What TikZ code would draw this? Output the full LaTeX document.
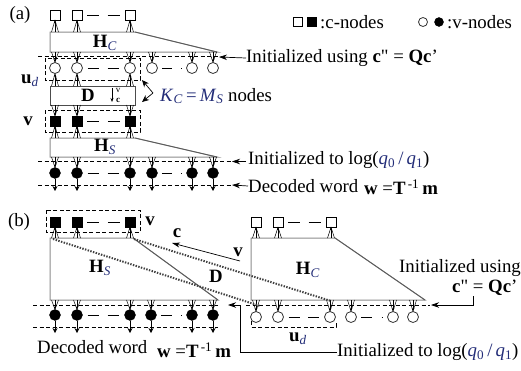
\documentclass[tikz,border=0pt]{standalone}
\usepackage{fontspec}
\setmainfont{Liberation Serif}
\usetikzlibrary{arrows.meta,calc}
\definecolor{mblue}{RGB}{35,45,120}
\definecolor{boxgray}{RGB}{140,140,140}
\newcommand{\mi}[1]{\textcolor{mblue}{\textit{#1}}}
\newcommand{\conn}[2]{%
  \draw[conl] ($(#1 |- 0,#2)+(-3.5,0)$) -- (#1) -- ($(#1 |- 0,#2)+(3.5,0)$);
  \draw[conl,-{Stealth[length=3pt,width=2.5pt]}] (#1 |- 0,#2) -- (#1);}
\newcommand{\gapdash}[2]{%
  \draw[line width=0.9pt] ($(#1.east)!0.12!(#2.west)$) -- ($(#1.east)!0.4!(#2.west)$)
       ($(#1.east)!0.6!(#2.west)$) -- ($(#1.east)!0.88!(#2.west)$);}
\newcommand{\gapdot}[2]{%
  \draw[line width=0.9pt] ($(#1.east)!0.15!(#2.west)$) -- ($(#1.east)!0.5!(#2.west)$)
       ($(#1.east)!0.82!(#2.west)$) -- ($(#1.east)!0.86!(#2.west)$);}
\begin{document}
\begin{tikzpicture}[x=1pt,y=-1pt,
  every node/.style={font=\fontsize{18.8}{22}\selectfont},
  osq/.style={draw,line width=0.8pt,fill=white,minimum size=10pt,inner sep=0pt},
  fsq/.style={draw,fill=black,minimum size=10pt,inner sep=0pt},
  ocir/.style={draw=black!80,circle,line width=0.8pt,fill=white,minimum size=11pt,inner sep=0pt},
  fcir/.style={draw,circle,fill=black,minimum size=11pt,inner sep=0pt},
  boxl/.style={draw=boxgray,line width=1pt,fill=white},
  diag/.style={draw=black!65,line width=0.8pt},
  dline/.style={line width=0.7pt,dash pattern=on 4pt off 2.5pt},
  conl/.style={line width=0.5pt},
  dotl/.style={line width=2pt,dash pattern=on 1.4pt off 1.4pt,draw=black!75},
  tip/.style={line width=0.7pt,-{Stealth[length=8pt,width=5.5pt]}},
  txt/.style={inner sep=0pt,anchor=west},
  small/.style={font=\fontsize{9}{9}\selectfont,inner sep=0pt},
]
\useasboundingbox (0,0) rectangle (521,370);

% ---------------- legend ----------------
\node[osq,minimum size=9pt] (lg1) at (298,22) {};
\node[fsq,minimum size=9pt] (lg2) at (312,22) {};
\node[txt] (lg3) at (320,22) {:c-nodes};
\node[ocir,minimum size=9pt] (lg4) at (423,22) {};
\node[fcir,minimum size=9pt] (lg5) at (439,22) {};
\node[txt] (lg6) at (447,22) {:v-nodes};

% ---------------- part (a) ----------------
\node (la) at (20,15) {(a)};
\draw[boxl] (50,32) -- (135,32) -- (217,52) -- (50,52) -- cycle;
\draw[diag] (135,32) -- (217,52);
\node (HCa) at (105,43) {\textbf{H}\textsubscript{\mi{C}}};
\draw[boxl,draw=black!70] (50,86) rectangle (135,105);
\node (Da) at (88,95) {\textbf{D}};
\coordinate (dvs) at (112,88);
\coordinate (dve) at (112,102);
\draw[line width=0.6pt,-{Stealth[length=4pt,width=3pt]}] (dvs) -- (dve);
\node[small] (dv) at (118,90) {v};
\node[small] (dc) at (118,100) {\textbf{c}};
\draw[boxl] (50,138) -- (135,138) -- (217,157) -- (50,157) -- cycle;
\draw[diag] (135,138) -- (217,157);
\node (HSa) at (105,147) {\textbf{H}\textsubscript{\mi{S}}};

\draw[dline] (38,56) -- (220,56);
\draw[dline] (45,58) rectangle (140,80);
\draw[dline] (45,110) rectangle (140,132);
\draw[dline] (38,161.5) -- (231,161.5);
\draw[dline] (38,185) -- (231,185);

\foreach \i/\x in {1/55,2/77,3/130} {
  \node[osq] (ta\i) at (\x,15) {};
  \node[fsq] (fa\i) at (\x,121) {};
}
\foreach \i/\x in {1/55,2/77,3/130,4/152,5/192,6/213} {
  \node[ocir] (ca\i) at (\x,68) {};
  \node[fcir] (ba\i) at (\x,173) {};
}
\gapdash{ta2}{ta3}
\gapdash{ca2}{ca3}
\gapdot{ca4}{ca5}
\gapdash{fa2}{fa3}
\gapdash{ba2}{ba3}
\gapdot{ba4}{ba5}

\foreach \i in {1,2,3} {
  \conn{ta\i.south}{32}
  \conn{ca\i.south}{86}
  \conn{fa\i.north}{105}
  \conn{fa\i.south}{138}
}
\foreach \i in {1,...,6} {
  \conn{ca\i.north}{52}
  \conn{ba\i.north}{157}
  \draw[line width=0.8pt,-{Stealth[length=5pt,width=5pt]}] (ba\i.south) -- (ba\i.south |- 0,191);
}

\node (uda) at (30,81) {\textbf{u}\textsubscript{\mi{d}}};
\node (va) at (28,121) {\textbf{v}};
\coordinate (kv) at (153,93);
\coordinate (k1) at (142,80);
\coordinate (k2) at (142,102);
\draw[line width=0.7pt,-{Stealth[length=7pt,width=6pt]}] (kv) -- (k1);
\draw[line width=0.7pt,-{Stealth[length=7pt,width=6pt]}] (kv) -- (k2);
\node[txt] (km) at (160,96) {\mi{K}\textsubscript{\mi{C}}\,\textcolor{mblue}{=}\,\mi{M}\textsubscript{\mi{S}} nodes};

\node[txt] (ia1) at (246,58) {Initialized using \textbf{c}\textquotedbl{} = \textbf{Qc}'};
\draw[tip] (ia1.west) -- (219,57);
\node[txt] (ia2) at (248,160) {Initialized to log(\mi{q}\textsubscript{\textcolor{mblue}{0}}\,\textcolor{mblue}{/}\,\mi{q}\textsubscript{\textcolor{mblue}{1}})};
\draw[tip] (246,161.5) -- (232,161.5);
\node[txt] (da1) at (248,186) {Decoded word};
\node[txt] (wa) at (364,187) {\textbf{w} =\textbf{T}\textsuperscript{\,-1}\,\textbf{m}};
\draw[tip] (da1.west) -- (232,185);

% ---------------- part (b) ----------------
\node (lb) at (19,222) {(b)};
\draw[boxl] (50,238) -- (133,238) -- (218,300) -- (50,300) -- cycle;
\draw[diag] (133,238) -- (218,300);
\draw[boxl] (251,238) -- (335,238) -- (425,300) -- (251,300) -- cycle;
\draw[diag] (335,238) -- (425,300);
\node (HSb) at (100,268) {\textbf{H}\textsubscript{\mi{S}}};
\node (HCb) at (308,270) {\textbf{H}\textsubscript{\mi{C}}};

\draw[dline] (46,210) rectangle (140,232);
\draw[dline] (33,305) -- (218,305);
\draw[dline] (33,327) -- (218,327);
\draw[dline] (246,305) -- (430,305);
\draw[dline] (251,321) -- (251,327) -- (336,327) -- (336,321);

\foreach \i/\x in {1/55,2/77,3/130} {
  \node[fsq] (fb\i) at (\x,222) {};
}
\foreach \i/\x in {1/256,2/278,3/331} {
  \node[osq] (tb\i) at (\x,222) {};
}
\foreach \i/\x in {1/55,2/77,3/130,4/151,5/192,6/213} {
  \node[fcir] (bb\i) at (\x,315) {};
}
\foreach \i/\x in {1/256,2/278,3/330,4/351,5/393,6/413} {
  \node[ocir] (ob\i) at (\x,317) {};
}
\gapdash{fb2}{fb3}
\gapdash{tb2}{tb3}
\gapdash{bb2}{bb3}
\gapdot{bb4}{bb5}
\gapdash{ob2}{ob3}
\gapdot{ob4}{ob5}

\foreach \i in {1,2,3} {
  \conn{fb\i.south}{238}
  \conn{tb\i.south}{238}
}
\foreach \i in {1,...,6} {
  \conn{bb\i.north}{300}
  \conn{ob\i.north}{300}
  \draw[line width=0.8pt,-{Stealth[length=5pt,width=5pt]}] (bb\i.south) -- (bb\i.south |- 0,333);
}

% D band (dotted)
\coordinate (d1s) at (53,239);
\coordinate (d1e) at (260,306);
\coordinate (d2s) at (134,239);
\coordinate (d2e) at (331,301);
\draw[dotl] (d1s) -- (d1e);
\draw[dotl] (d2s) -- (d2e);
\node (Db) at (216,276) {\textbf{D}};
\coordinate (cvs) at (240,261);
\coordinate (cve) at (172,243);
\draw[line width=0.7pt,-{Stealth[length=8pt,width=5pt]}] (cvs) -- (cve);
\node (cb) at (177,233) {\textbf{c}};
\node (vb2) at (238,252) {\textbf{v}};
\node (vb) at (150,221) {\textbf{v}};

\node (udb) at (298,339) {\textbf{u}\textsubscript{\mi{d}}};
\node[txt] (ib1) at (399,268) {Initialized using};
\node[txt] (ib2) at (452,288) {\textbf{c}\textquotedbl{} = \textbf{Qc}'};
\coordinate (ib2a) at (473,296);
\draw[tip] (ib2a) |- (431,305);
\node[txt] (ib3) at (337,352) {Initialized to log(\mi{q}\textsubscript{\textcolor{mblue}{0}}\,\textcolor{mblue}{/}\,\mi{q}\textsubscript{\textcolor{mblue}{1}})};
\draw[tip] (ib3.west) -| (240,305) -- (228,305);
\node[txt] (db1) at (37,347) {Decoded word};
\node[txt] (wb) at (157,350) {\textbf{w} =\textbf{T}\textsuperscript{\,-1}\,\textbf{m}};
\end{tikzpicture}
\end{document}
